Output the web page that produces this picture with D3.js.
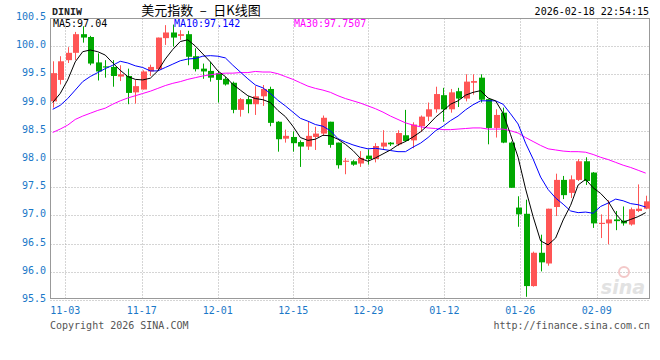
<!DOCTYPE html>
<html>
<head>
<meta charset="utf-8">
<script src="https://cdn.jsdelivr.net/npm/d3@7"></script>
<style>
  body { margin: 0; background: #fff; }
  text { font-family: "DejaVu Sans Mono", monospace; }
</style>
</head>
<body>
<div class="graph"></div>
<script>
const w = 660;
const h = 360;

// daily candles, 10-30 .. 02-18 (index based)
const open = [99.02,99.40,99.75,99.88,100.21,100.16,99.71,99.64,99.63,99.46,99.47,99.18,99.23,99.55,99.59,100.14,
  100.24,100.18,100.21,99.82,99.60,99.56,99.52,99.42,99.35,98.87,99.06,98.97,99.11,99.24,98.66,98.36,
  98.39,98.30,98.22,98.39,98.45,98.66,98.29,97.95,97.96,97.92,98.06,98.00,98.22,98.29,98.26,98.42,
  98.33,98.58,98.75,98.88,99.13,98.88,99.20,99.07,99.35,99.44,99.06,98.55,98.82,98.29,97.14,97.03,
  95.75,96.34,96.15,97.15,97.63,97.40,97.63,97.96,97.76,96.85,96.86,96.93,96.91,96.84,97.08,97.12];
const high = [99.73,99.82,99.98,100.25,100.35,100.18,99.87,99.75,99.75,99.66,99.60,99.40,99.57,99.67,100.15,100.37,
  100.38,100.28,100.27,99.96,99.69,99.72,99.56,99.46,99.37,99.08,99.11,99.29,99.31,99.28,98.67,98.52,
  98.49,98.33,98.66,98.57,98.77,98.66,98.29,98.02,97.98,98.14,98.17,98.28,98.51,98.30,98.51,98.87,
  98.65,98.77,99.00,99.28,99.26,99.24,99.26,99.50,99.50,99.50,99.06,98.88,98.91,98.31,97.34,97.28,
  96.36,96.66,97.12,97.74,97.70,97.71,98.00,98.03,97.77,97.02,97.27,97.08,97.16,97.14,97.55,97.35];
const low = [98.91,99.32,99.70,99.75,100.06,99.66,99.39,99.44,99.28,99.38,98.97,98.98,99.23,99.47,99.57,100.02,
  99.99,100.11,99.66,99.55,99.42,99.37,99.00,99.30,98.81,98.75,98.81,98.78,98.94,98.58,98.13,98.29,
  98.13,97.86,98.16,98.16,98.41,98.20,97.83,97.73,97.88,97.86,97.90,97.94,98.17,98.23,98.23,98.30,
  98.19,98.48,98.67,98.82,98.66,98.82,98.92,99.02,99.14,99.00,98.26,98.38,98.28,97.49,96.80,95.56,
  95.74,96.01,96.11,96.99,97.29,97.31,97.61,97.54,96.78,96.60,96.49,96.74,96.82,96.82,97.06,97.11];
const close = [99.52,99.73,99.88,100.21,100.15,99.69,99.55,99.62,99.47,99.50,99.17,99.29,99.55,99.63,100.15,100.24,
  100.15,100.21,99.81,99.59,99.55,99.44,99.40,99.32,98.87,99.06,98.97,99.11,99.24,98.64,98.35,98.41,
  98.28,98.22,98.41,98.45,98.73,98.25,97.89,97.97,97.90,98.02,98.00,98.23,98.29,98.26,98.46,98.32,
  98.61,98.75,98.88,99.15,98.88,99.18,99.07,99.37,99.38,99.05,98.55,98.78,98.29,97.49,97.02,95.75,
  96.34,96.17,97.12,97.63,97.36,97.64,97.96,97.61,96.86,96.87,96.93,96.90,96.86,97.11,97.12,97.25];

const ma5 = [99.00,99.16,99.40,99.72,99.90,99.93,99.90,99.84,99.70,99.57,99.46,99.41,99.40,99.43,99.56,99.77,
  99.94,100.08,100.11,100.00,99.86,99.72,99.56,99.46,99.32,99.22,99.12,99.07,99.05,99.00,98.86,98.75,
  98.58,98.38,98.33,98.35,98.42,98.41,98.35,98.26,98.15,98.01,97.96,98.02,98.09,98.16,98.25,98.31,
  98.39,98.48,98.60,98.74,98.85,98.97,99.03,99.13,99.18,99.21,99.08,99.03,98.81,98.43,98.03,97.47,
  96.98,96.55,96.48,96.60,96.92,97.18,97.54,97.64,97.49,97.39,97.25,97.03,96.88,96.93,96.98,97.05];
const ma10 = [98.88,98.95,99.07,99.22,99.37,99.46,99.53,99.60,99.66,99.73,99.70,99.65,99.62,99.56,99.56,99.62,
  99.68,99.74,99.77,99.78,99.82,99.83,99.82,99.79,99.66,99.54,99.42,99.31,99.26,99.16,99.04,98.94,
  98.83,98.72,98.67,98.61,98.58,98.50,98.36,98.30,98.25,98.21,98.18,98.19,98.17,98.15,98.13,98.13,
  98.21,98.28,98.38,98.50,98.58,98.68,98.76,98.87,98.96,99.03,99.03,99.03,98.97,98.80,98.62,98.28,
  98.00,97.68,97.46,97.31,97.20,97.08,97.05,97.06,97.04,97.16,97.22,97.29,97.26,97.21,97.19,97.15];
const ma30 = [98.47,98.53,98.60,98.70,98.76,98.81,98.86,98.90,98.97,99.03,99.08,99.12,99.16,99.20,99.25,99.30,
  99.34,99.37,99.41,99.44,99.47,99.49,99.51,99.52,99.52,99.53,99.53,99.55,99.54,99.54,99.51,99.46,
  99.41,99.35,99.29,99.25,99.22,99.18,99.12,99.07,99.03,98.99,98.94,98.89,98.83,98.76,98.70,98.64,
  98.60,98.57,98.55,98.54,98.52,98.52,98.53,98.54,98.55,98.55,98.53,98.53,98.53,98.50,98.46,98.38,
  98.31,98.24,98.18,98.16,98.14,98.13,98.13,98.12,98.08,98.03,97.99,97.94,97.89,97.85,97.80,97.75];

const yTicks = [100.5, 100.0, 99.5, 99.0, 98.5, 98.0, 97.5, 97.0, 96.5, 96.0, 95.5];
const xTickLabels = ["11-03", "11-17", "12-01", "12-15", "12-29", "01-12", "01-26", "02-09"];
const xTickIndex = [1.68, 11.86, 21.98, 32.05, 42.05, 52.18, 62.3, 72.48];

const box = {left: 50.5, right: 649.5, top: 18.5, bottom: 298.5};

const canvas = d3.select('.graph')
  .append("svg")
  .attr("width", w)
  .attr("height", h);

const xScale = d3.scaleLinear().domain([0, 79]).range([52.7, 645.7]);
const yScale = d3.scaleLinear().domain([95.5, 100.5]).range([300.2, 17.8]);

// dotted grid
canvas.append("g").selectAll("line")
  .data(yTicks)
  .enter().append("line")
  .attr("x1", box.left).attr("x2", box.right)
  .attr("y1", d => Math.round(yScale(d)) + 0.5)
  .attr("y2", d => Math.round(yScale(d)) + 0.5)
  .attr("stroke", "#aaa")
  .attr("stroke-dasharray", "1,2");

canvas.append("g").selectAll("line")
  .data(xTickIndex)
  .enter().append("line")
  .attr("x1", d => Math.round(xScale(d)) + 0.5)
  .attr("x2", d => Math.round(xScale(d)) + 0.5)
  .attr("y1", box.top).attr("y2", 300)
  .attr("stroke", "#aaa")
  .attr("stroke-dasharray", "1,2");

// frame
canvas.append("rect")
  .attr("x", box.left).attr("y", box.top)
  .attr("width", box.right - box.left).attr("height", box.bottom - box.top)
  .attr("fill", "none")
  .attr("stroke", "#999");

// watermark
canvas.append("text")
  .attr("x", 645).attr("y", 294)
  .attr("text-anchor", "end")
  .style("font-family", "'DejaVu Sans', sans-serif")
  .style("font-style", "italic")
  .style("font-weight", "bold")
  .style("font-size", "19px")
  .attr("fill", "#e2e2e2")
  .text("sina");
canvas.append("circle")
  .attr("cx", 624).attr("cy", 272).attr("r", 5)
  .attr("fill", "none").attr("stroke", "#f3c8c8").attr("stroke-width", 2);

// y labels
canvas.append("g").selectAll("text")
  .data(yTicks)
  .enter().append("text")
  .attr("x", 46)
  .attr("y", d => yScale(d) + 2)
  .attr("text-anchor", "end")
  .attr("fill", "#1a78c8")
  .style("font-size", "10px")
  .text(d => d.toFixed(1));

// x labels
canvas.append("g").selectAll("text")
  .data(xTickIndex)
  .enter().append("text")
  .attr("x", d => xScale(d))
  .attr("y", 314)
  .attr("text-anchor", "middle")
  .attr("fill", "#1a78c8")
  .style("font-size", "10px")
  .text((d, i) => xTickLabels[i]);

// candles
const idx = d3.range(close.length);
const up = "#ff5555", down = "#00a800";
const candle = canvas.append("g").selectAll("g")
  .data(idx)
  .enter().append("g");

candle.append("line")
  .attr("x1", i => Math.round(xScale(i)) + 0.5)
  .attr("x2", i => Math.round(xScale(i)) + 0.5)
  .attr("y1", i => yScale(high[i]))
  .attr("y2", i => yScale(low[i]))
  .attr("stroke", i => close[i] >= open[i] ? up : down);

candle.append("rect")
  .attr("x", i => Math.round(xScale(i)) - 2)
  .attr("width", 6)
  .attr("y", i => yScale(Math.max(open[i], close[i])))
  .attr("height", i => Math.max(1, Math.abs(yScale(open[i]) - yScale(close[i]))))
  .attr("fill", i => close[i] >= open[i] ? up : down);

// moving averages
const line = arr => d3.line()
  .x((d, i) => xScale(i))
  .y(d => yScale(d))(arr);

[[ma30, "#ff00ff"], [ma10, "#0000ff"], [ma5, "#000000"]].forEach(([arr, c]) => {
  canvas.append("path")
    .attr("d", line(arr))
    .attr("fill", "none")
    .attr("stroke", c)
    .attr("stroke-width", 1);
});

// header
canvas.append("text")
  .attr("x", 52).attr("y", 15)
  .style("font-family", "'Liberation Mono', monospace")
  .style("font-weight", "bold")
  .style("font-size", "10px")
  .attr("fill", "#222")
  .text("DINIW");

canvas.append("text")
  .attr("x", 201).attr("y", 15)
  .attr("text-anchor", "middle")
  .style("font-family", "'Noto Sans CJK SC', sans-serif")
  .style("font-size", "13px")
  .style("white-space", "pre")
  .attr("xml:space", "preserve")
  .attr("fill", "#000")
  .text("美元指数\u2002–\u2002日K线图");

canvas.append("text")
  .attr("x", 649).attr("y", 15)
  .attr("text-anchor", "end")
  .style("font-size", "10px")
  .attr("fill", "#000")
  .text("2026-02-18 22:54:15");

const legend = [["MA5:", "97.04", "#000000", 53], ["MA10:", "97.142", "#0000ff", 174], ["MA30:", "97.7507", "#ff00ff", 294]];
canvas.append("g").selectAll("text")
  .data(legend)
  .enter().append("text")
  .attr("x", d => d[3])
  .attr("y", 27)
  .attr("fill", d => d[2])
  .style("font-size", "10px")
  .text(d => d[0] + d[1]);

// footer
canvas.append("text")
  .attr("x", 50).attr("y", 329)
  .attr("fill", "#555")
  .style("font-size", "10px")
  .text("Copyright 2026 SINA.COM");

canvas.append("text")
  .attr("x", 650).attr("y", 329)
  .attr("text-anchor", "end")
  .attr("fill", "#555")
  .style("font-size", "10px")
  .text("http://finance.sina.com.cn");
</script>
</body>
</html>
